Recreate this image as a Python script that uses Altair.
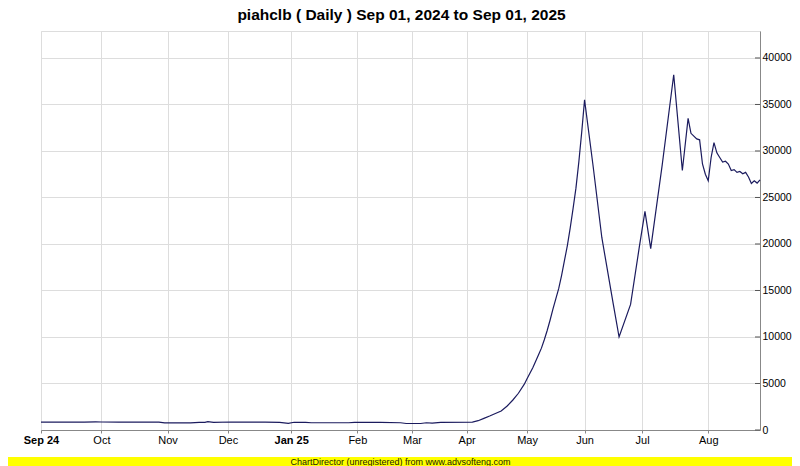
import altair as alt
import pandas as pd

TITLE = "piahclb ( Daily ) Sep 01, 2024 to Sep 01, 2025"
BANNER = "ChartDirector (unregistered) from www.advsofteng.com"

# trading-day index (0 = Sep 2, 2024) and closing value
day_index = [0, 7, 15, 19, 21, 27, 41, 43, 52, 55, 57, 58, 60, 66, 78, 83, 86, 88,
             92, 94, 107, 109, 118, 125, 127, 132, 134, 136, 138, 139, 150,
             152, 154, 156, 158, 160, 162, 164, 166, 168, 169, 170, 171, 172, 173, 174,
             175, 176, 177, 178, 179, 180, 181, 182, 183, 184, 185, 186, 187, 188, 189,
             192, 195, 199, 201, 205, 208, 210, 212, 216, 220, 223, 225, 226, 228, 229,
             230, 231, 232, 233, 234, 235, 236, 237, 238, 239, 240, 241, 242, 243, 244,
             245, 246, 247, 248, 249, 250]
price = [850, 840, 850, 880, 860, 850, 840, 770, 770, 810, 830, 900, 820, 860, 840, 820, 720, 830,
         830, 780, 780, 830, 830, 780, 700, 700, 780, 740, 800, 820, 850,
         1000, 1250, 1500, 1780, 2050, 2550, 3200, 3950, 4900, 5500, 6100, 6700, 7400, 8100, 8800,
         9700, 10700, 11800, 13000, 14100, 15200, 16600, 18200, 19800, 21700, 23800, 26000, 28800, 32000, 35500,
         28300, 20700, 13500, 10000, 13500, 19600, 23500, 19500, 28500, 38200, 27900, 33500, 31900, 31300, 31200,
         28600, 27500, 26800, 29300, 30900, 29800, 29300, 28800, 28900, 28600, 27900, 28000, 27700, 27800, 27550,
         27700, 27200, 26500, 26800, 26550, 26900]

month_ticks = [0, 21, 44, 65, 87, 110, 129, 148, 169, 189, 209, 232]
month_labels = ["Sep 24", "Oct", "Nov", "Dec", "Jan 25", "Feb", "Mar", "Apr", "May", "Jun", "Jul", "Aug"]
bold_labels = ["Sep 24", "Jan 25"]
y_ticks = [0, 5000, 10000, 15000, 20000, 25000, 30000, 35000, 40000]

FONT = "Liberation Sans"
W, H = 719, 399
PAD = {"left": 33, "top": 23, "right": 32, "bottom": 36}

df = pd.DataFrame({"day": day_index, "value": price})
ticks_df = pd.DataFrame({"v": y_ticks})
dummy = pd.DataFrame({"a": [0]})

label_expr = "{" + ", ".join(f"'{t}': '{l}'" for t, l in zip(month_ticks, month_labels)) + "}[datum.value]"
bold_ticks = [t for t, l in zip(month_ticks, month_labels) if l in bold_labels]
bold_test = " || ".join(f"datum.value == {t}" for t in bold_ticks)

xscale = alt.Scale(domain=[0, 250], nice=False, zero=False)
yscale = alt.Scale(domain=[0, 42900], nice=False)

line = alt.Chart(df).mark_line(color="#1b1b5e", strokeWidth=1.2, interpolate="linear").encode(
    x=alt.X("day:Q", scale=xscale, title=None,
            axis=alt.Axis(values=month_ticks, labelExpr=label_expr, grid=True, gridColor="#dddddd",
                          gridWidth=1, tickSize=3, tickColor="#888888", domainColor="#888888",
                          labelFont=FONT, labelFontSize=11, labelColor="#000000", labelPadding=1,
                          labelFontWeight=alt.condition(bold_test, alt.value("bold"), alt.value("normal")),
                          labelFlush=False, labelOverlap=False)),
    y=alt.Y("value:Q", scale=yscale, title=None,
            axis=alt.Axis(orient="right", values=y_ticks, grid=True, gridColor="#dddddd", gridWidth=1,
                          ticks=False, domainColor="#888888", labelFont=FONT, labelFontSize=10.5,
                          labelColor="#000000", labelPadding=2, format="d", labelFlush=False)),
)

yticks = alt.Chart(ticks_df).mark_rule(color="#555555", strokeWidth=1).encode(
    y=alt.Y("v:Q", scale=yscale),
    x=alt.value(W - 5), x2=alt.value(W),
)

title = alt.Chart(dummy).mark_text(font=FONT, fontSize=15.5, fontWeight="bold", color="#000000",
                                    baseline="alphabetic", align="center").encode(
    x=alt.value(W / 2 + 1), y=alt.value(-11.5), text=alt.value(TITLE),
)

banner = alt.Chart(dummy).mark_rect(color="#ffff00").encode(
    x=alt.value(-PAD["left"]), x2=alt.value(W + PAD["right"]),
    y=alt.value(H + PAD["bottom"] - 9), y2=alt.value(H + PAD["bottom"]),
)
banner_text = alt.Chart(dummy).mark_text(font=FONT, fontSize=9, color="#222200", baseline="middle",
                                          align="center").encode(
    x=alt.value(W / 2), y=alt.value(H + PAD["bottom"] - 4.5), text=alt.value(BANNER),
)

chart = alt.layer(line, yticks, title, banner, banner_text).properties(
    width=W, height=H,
    autosize=alt.AutoSizeParams(type="none"),
    padding=PAD,
).configure_view(stroke="#888888", strokeWidth=1).configure(background="#ffffff")

chart.save("out.html", embed_options={"renderer": "svg", "actions": False})
